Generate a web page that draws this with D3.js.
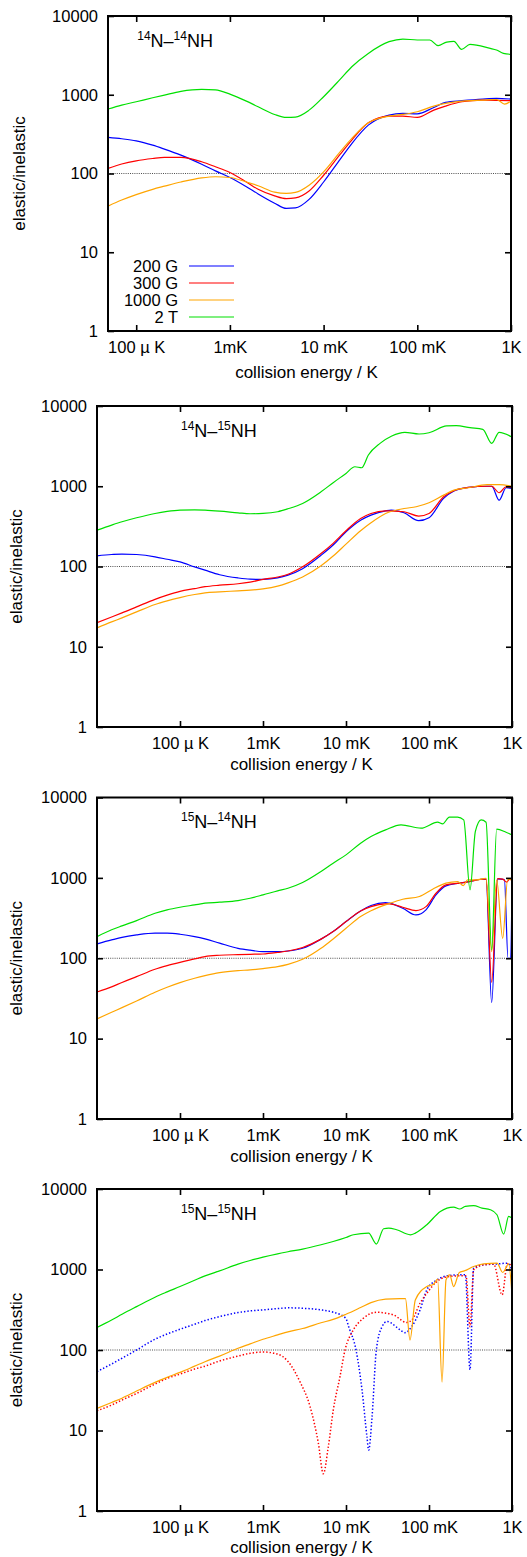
<!DOCTYPE html>
<html>
<head>
<meta charset="utf-8">
<script src="https://cdn.jsdelivr.net/npm/d3@7"></script>
<style>
  body { margin: 0; background: #fff; }
  svg { display: block; }
  text { font-family: "Liberation Sans", Arial, Helvetica, sans-serif; fill: #000; }
</style>
</head>
<body>
<svg></svg>
<script>
// ---------- data: [collision energy / K, elastic/inelastic]

const energyTicks = [1e-4, 1e-3, 1e-2, 1e-1, 1];
const energyTickLabels = ['100 µ K', '1mK', '10 mK', '100 mK', '1K'];
const ratioTicks = [1, 10, 100, 1000, 10000];
const fieldLabels = ['200 G', '300 G', '1000 G', '2 T'];
const panelTitles = [['14', 'N–', '14', 'NH'], ['14', 'N–', '15', 'NH'], ['15', 'N–', '14', 'NH'], ['15', 'N–', '15', 'NH']];

// 14N-14NH
const n14n14_200G = [[5e-5,287],[7e-5,276],[1e-4,260],[1.5e-4,229],[2e-4,204],[3e-4,171],[5e-4,131],[7e-4,108],[1e-3,89],[1.5e-3,68],[2e-3,55],[3e-3,42],[4e-3,36],[5e-3,36.5],[7e-3,47],[1e-2,78],[1.5e-2,151],[2e-2,240],[3e-2,411],[5e-2,552],[7e-2,580],[0.1,573],[0.15,690],[0.2,800],[0.3,840],[0.5,881],[0.7,898],[1,881]];
const n14n14_300G = [[5e-5,116],[7e-5,132],[1e-4,145],[1.5e-4,155],[2e-4,160],[3e-4,160],[5e-4,141],[7e-4,122],[1e-3,103],[1.5e-3,78],[2e-3,63],[3e-3,52],[4e-3,48],[5e-3,49],[7e-3,60],[1e-2,95],[1.5e-2,175],[2e-2,266],[3e-2,440],[5e-2,536],[7e-2,536],[0.1,515],[0.15,638],[0.2,718],[0.3,815],[0.5,855],[0.7,850],[1,840]];
const n14n14_1000G = [[5e-5,38.5],[7e-5,46],[1e-4,54],[1.5e-4,63],[2e-4,69],[3e-4,78],[5e-4,88],[7e-4,91],[1e-3,89],[1.5e-3,78],[2e-3,70],[3e-3,58],[4e-3,56],[5e-3,57.5],[7e-3,71],[1e-2,105],[1.5e-2,188],[2e-2,279],[3e-2,440],[5e-2,536],[7e-2,562],[0.1,608],[0.15,718],[0.2,776],[0.3,830],[0.5,855],[0.7,870],[0.855,760],[1,830]];
const n14n14_2T = [[5e-5,658],[7e-5,739],[1e-4,815],[1.5e-4,916],[2e-4,991],[3e-4,1103],[5e-4,1169],[7e-4,1150],[1e-3,1018],[1.5e-3,830],[2e-3,703],[3e-3,562],[4e-3,515],[5e-3,520],[7e-3,638],[1e-2,944],[1.5e-2,1567],[2e-2,2270],[3e-2,3350],[5e-2,4720],[7e-2,5100],[0.1,4960],[0.136,4960],[0.167,4200],[0.206,4670],[0.246,4760],[0.297,3770],[0.365,4370],[0.6,3880],[0.7,3700],[0.83,3350],[1,3260]];

// 14N-15NH
const n14n15_200G = [[1e-5,136],[1.5e-5,141],[2e-5,143],[3e-5,141],[5e-5,132],[7e-5,123],[1e-4,114],[1.5e-4,99],[2e-4,90],[3e-4,79],[5e-4,72],[7e-4,69.5],[1e-3,69],[1.5e-3,72],[2e-3,78],[3e-3,94],[5e-3,138],[7e-3,185],[1e-2,271],[1.5e-2,378],[2e-2,437],[3e-2,494],[3.5e-2,505],[5e-2,467],[7.5e-2,372],[0.1,405],[0.15,705],[0.2,871],[0.3,967],[0.5,1000],[0.57,1000],[0.7,671],[0.85,958],[1,940]];
const n14n15_300G = [[1e-5,20],[1.5e-5,23.5],[2e-5,26.4],[3e-5,31.4],[5e-5,39],[7e-5,44],[1e-4,49],[1.5e-4,53],[2e-4,56],[3e-4,58.5],[5e-4,61],[7e-4,64],[1e-3,69],[1.5e-3,74],[2e-3,80],[3e-3,99],[5e-3,145],[7e-3,194],[1e-2,279],[1.5e-2,397],[2e-2,458],[3e-2,494],[5e-2,481],[7.5e-2,425],[0.1,458],[0.15,740],[0.2,879],[0.3,967],[0.5,1000],[0.57,1000],[0.7,830],[0.85,986],[1,967]];
const n14n15_1000G = [[1e-5,17.2],[1.5e-5,20.4],[2e-5,22.9],[3e-5,27.2],[5e-5,33.6],[7e-5,37.3],[1e-4,41],[1.5e-4,44.8],[2e-4,47],[3e-4,48.3],[5e-4,49.7],[7e-4,50.7],[1e-3,52.6],[1.5e-3,56.9],[2e-3,62.5],[3e-3,74],[5e-3,102],[7e-3,135],[1e-2,190],[1.5e-2,279],[2e-2,351],[3e-2,458],[5e-2,528],[7e-2,555],[0.1,622],[0.15,776],[0.2,896],[0.3,958],[0.5,1045],[0.7,1050],[1,1000]];
const n14n15_2T = [[1e-5,284],[1.5e-5,328],[2e-5,361],[3e-5,405],[5e-5,458],[7e-5,485],[1e-4,504],[1.5e-4,509],[2e-4,504],[3e-4,490],[5e-4,467],[7e-4,454],[1e-3,458],[1.5e-3,481],[2e-3,524],[3e-3,611],[5e-3,853],[7e-3,1107],[1e-2,1446],[0.0128,1750],[0.01545,1700],[0.0186,2450],[0.0257,3420],[0.0356,4230],[0.0512,4700],[0.0758,4480],[0.1,4640],[0.163,5640],[0.213,5690],[0.312,5370],[0.445,5120],[0.569,3420],[0.7,4700],[1,4100]];

// 15N-14NH
const n15n14_200G = [[1e-5,151],[1.5e-5,169],[2e-5,182],[3e-5,195],[5e-5,205],[7e-5,205],[1e-4,199],[1.5e-4,186],[2e-4,174],[3e-4,154],[5e-4,133],[7e-4,126],[1e-3,121],[1.5e-3,121],[2e-3,123],[3e-3,133],[5e-3,173],[7e-3,215],[1e-2,286],[1.5e-2,388],[2e-2,453],[3e-2,493],[0.0333,484],[0.0482,419],[0.0697,346],[0.092,400],[0.1214,614],[0.16,794],[0.232,859],[0.306,900],[0.424,961],[0.487,965],[0.569,28],[0.671,972],[0.81,950],[0.896,100],[0.964,100],[1,900]];
const n15n14_300G = [[1e-5,38],[1.5e-5,44],[2e-5,50],[3e-5,59],[5e-5,73],[7e-5,81],[1e-4,89],[1.5e-4,98],[2e-4,105],[3e-4,109],[5e-4,111],[7e-4,112],[1e-3,113],[1.5e-3,118],[2e-3,123],[3e-3,136],[5e-3,173],[7e-3,215],[1e-2,286],[1.5e-2,388],[2e-2,439],[3e-2,474],[0.0333,474],[0.0482,431],[0.0697,392],[0.092,439],[0.1214,644],[0.16,818],[0.232,860],[0.306,900],[0.424,961],[0.487,965],[0.569,50],[0.671,980],[0.773,965],[0.863,884],[0.929,960],[1,950]];
const n15n14_1000G = [[1e-5,17.6],[1.5e-5,21.3],[2e-5,24.3],[3e-5,29.4],[5e-5,37.8],[7e-5,43.6],[1e-4,49.8],[1.5e-4,56.4],[2e-4,60.8],[3e-4,66.3],[5e-4,70.2],[7e-4,71.6],[1e-3,74.3],[1.5e-3,78.7],[2e-3,84],[3e-3,97],[5e-3,133],[7e-3,174],[1e-2,236],[1.5e-2,330],[2e-2,390],[0.0333,480],[0.0482,542],[0.0766,586],[0.1107,723],[0.16,859],[0.221,900],[0.259,803],[0.292,944],[0.368,944],[0.487,990],[0.569,121],[0.653,944],[0.773,177],[0.887,961],[1,940]];
const n15n14_2T = [[1e-5,186],[1.5e-5,226],[2e-5,253],[3e-5,294],[5e-5,363],[7e-5,400],[1e-4,431],[1.5e-4,461],[2e-4,484],[3e-4,498],[5e-4,522],[7e-4,558],[1e-3,614],[1.5e-3,689],[2e-3,743],[3e-3,875],[5e-3,1200],[7e-3,1524],[1e-2,1933],[1.5e-2,2700],[2e-2,3270],[3e-2,3960],[0.046,4570],[0.0802,4150],[0.127,4930],[0.146,4700],[0.176,5690],[0.221,5690],[0.262,5270],[0.312,710],[0.362,3780],[0.424,5270],[0.487,4930],[0.569,127],[0.653,4040],[0.847,3700],[1,3430]];

// 15N-15NH
const n15n15_200G = [[1e-5,54],[1.5e-5,67],[2e-5,79],[3e-5,100],[5e-5,136],[7e-5,158],[1e-4,181],[1.5e-4,209],[2e-4,232],[3e-4,260],[5e-4,292],[7e-4,306],[1e-3,315],[1.5e-3,327],[2e-3,334],[3e-3,330],[5e-3,315],[7e-3,295],[8.5e-3,275],[1e-2,245],[0.01076,195],[0.0132,100],[0.0156,31.8],[0.0179,8.3],[0.01875,5.7],[0.0206,14.8],[0.0232,100],[0.0272,195],[0.0312,226],[0.0452,177],[0.0512,164],[0.0618,195],[0.078,315],[0.0942,558],[0.1247,743],[0.165,834],[0.239,859],[0.274,859],[0.312,57],[0.345,1040],[0.455,1143],[0.659,1170],[0.88,1200],[1,990]];
const n15n15_300G = [[1e-5,17.6],[1.5e-5,20.7],[2e-5,23.9],[3e-5,28.9],[5e-5,37.8],[7e-5,44.4],[1e-4,50.2],[1.5e-4,58],[2e-4,63],[3e-4,73],[5e-4,84],[7e-4,91],[1e-3,94.4],[1.5e-3,89],[2e-3,72],[2.8e-3,40],[3.68e-3,20],[4.64e-3,7],[5.33e-3,2.9],[6.12e-3,6.3],[7.03e-3,18],[8.47e-3,47],[9.73e-3,100],[0.01225,177],[0.01618,248],[0.0234,294],[0.0372,273],[0.0538,220],[0.062,235],[0.078,381],[0.0942,507],[0.1247,710],[0.158,803],[0.228,834],[0.279,834],[0.312,195],[0.345,990],[0.455,1143],[0.6,1170],[0.76,484],[0.88,1170],[1,1143]];
const n15n15_1000G = [[1e-5,18.8],[1.5e-5,22.3],[2e-5,25.2],[3e-5,30.9],[5e-5,39.6],[7e-5,45.7],[1e-4,52.7],[1.5e-4,63],[2e-4,71.6],[3e-4,84],[5e-4,105],[7e-4,119],[1e-3,136],[1.5e-3,154],[2e-3,168],[3e-3,185],[5e-3,218],[7e-3,240],[1e-2,278],[1.5e-2,337],[2e-2,388],[3e-2,428],[0.0448,435],[0.052,435],[0.059,133],[0.0684,419],[0.0942,614],[0.1138,656],[0.127,758],[0.1436,40],[0.1603,743],[0.1774,859],[0.198,614],[0.232,918],[0.267,961],[0.345,1090],[0.455,1175],[0.659,1200],[0.773,918],[0.912,1175],[1,484]];
const n15n15_2T = [[1e-5,191],[1.5e-5,236],[2e-5,278],[3e-5,346],[5e-5,453],[7e-5,527],[1e-4,614],[1.5e-4,736],[2e-4,834],[3e-4,961],[5e-4,1164],[7e-4,1294],[1e-3,1426],[1.5e-3,1567],[2e-3,1660],[3e-3,1791],[5e-3,2030],[7e-3,2230],[1e-2,2500],[0.0123,2700],[0.01875,2830],[0.0232,2070],[0.0284,3210],[0.0327,3270],[0.0407,3120],[0.0596,2700],[0.0684,2830],[0.0942,3600],[0.137,5270],[0.198,5970],[0.234,5640],[0.274,6080],[0.345,6200],[0.435,5800],[0.548,5530],[0.659,4790],[0.794,2750],[0.912,4570],[1,4350]];

// ---------- setup
const width = 527;
const height = 1557;
const colors = ['#0000ff', '#ff0000', '#ffa500', '#00e000'];

const svg = d3.select('svg')
  .attr('width', width)
  .attr('height', height);

const panels = [
  { left: 108, right: 511, top: 16, bottom: 331, xMin: 5e-5, xlabelDy: 46.5, ylabelX: 25,
    series: [n14n14_200G, n14n14_300G, n14n14_1000G, n14n14_2T], dotted: [false, false, false, false], legend: true, refColor: '#222' },
  { left: 97, right: 512, top: 406, bottom: 727, xMin: 1e-5, xlabelDy: 42.5, ylabelX: 22,
    series: [n14n15_200G, n14n15_300G, n14n15_1000G, n14n15_2T], dotted: [false, false, false, false], refColor: '#222' },
  { left: 97, right: 512, top: 797.5, bottom: 1119, xMin: 1e-5, xlabelDy: 42.5, ylabelX: 22,
    series: [n15n14_200G, n15n14_300G, n15n14_1000G, n15n14_2T], dotted: [false, false, false, false], refColor: '#222' },
  { left: 97, right: 512, top: 1189, bottom: 1511, xMin: 1e-5, xlabelDy: 42, ylabelX: 22,
    series: [n15n15_200G, n15n15_300G, n15n15_1000G, n15n15_2T], dotted: [true, true, false, false], refColor: '#888' }
];

panels.forEach(function (p, i) {
  const g = svg.append('g');

  const xScale = d3.scaleLog().domain([p.xMin, 1]).range([p.left, p.right]);
  const yScale = d3.scaleLog().domain([1, 10000]).range([p.bottom, p.top]);

  const clipId = 'clip' + i;
  g.append('clipPath').attr('id', clipId)
    .append('rect')
    .attr('x', p.left).attr('y', p.top)
    .attr('width', p.right - p.left).attr('height', p.bottom - p.top);

  // reference line at 100
  g.append('line')
    .attr('x1', p.left).attr('x2', p.right)
    .attr('y1', yScale(100)).attr('y2', yScale(100))
    .attr('stroke', p.refColor)
    .attr('stroke-width', i === 3 ? 1.3 : 0.8)
    .attr('stroke-dasharray', '1,1.2');

  // curves
  const line = d3.line()
    .curve(d3.curveMonotoneX)
    .x(function (d) { return xScale(d[0]); })
    .y(function (d) { return yScale(d[1]); });

  const plot = g.append('g').attr('clip-path', 'url(#' + clipId + ')');
  p.series.forEach(function (s, k) {
    plot.append('path')
      .datum(s)
      .attr('d', line)
      .attr('fill', 'none')
      .attr('stroke', colors[k])
      .attr('stroke-width', p.dotted[k] ? 1.5 : 1.2)
      .attr('stroke-dasharray', p.dotted[k] ? '1.4,2' : null)
      .attr('stroke-linejoin', 'miter');
  });

  // axes (ticks inward on all sides)
  const tickLen = 6;
  const bottomAxis = d3.axisBottom(xScale)
    .tickValues(energyTicks)
    .tickFormat(function (d, j) { return energyTickLabels[j]; })
    .tickSizeInner(-tickLen).tickSizeOuter(0).tickPadding(10);
  const topAxis = d3.axisTop(xScale)
    .tickValues(energyTicks).tickFormat('')
    .tickSizeInner(-tickLen).tickSizeOuter(0);
  const leftAxis = d3.axisLeft(yScale)
    .tickValues(ratioTicks).tickFormat(d3.format('d'))
    .tickSizeInner(-tickLen).tickSizeOuter(0).tickPadding(10);
  const rightAxis = d3.axisRight(yScale)
    .tickValues(ratioTicks).tickFormat('')
    .tickSizeInner(-tickLen).tickSizeOuter(0);

  const axes = [
    g.append('g').attr('transform', 'translate(0,' + p.bottom + ')').call(bottomAxis),
    g.append('g').attr('transform', 'translate(0,' + p.top + ')').call(topAxis),
    g.append('g').attr('transform', 'translate(' + p.left + ',0)').call(leftAxis),
    g.append('g').attr('transform', 'translate(' + p.right + ',0)').call(rightAxis)
  ];
  axes.forEach(function (a) {
    a.select('.domain').remove();
    a.selectAll('line').attr('stroke', '#000').attr('stroke-width', 1.6);
    a.selectAll('text')
      .style('font-family', '"Liberation Sans", Arial, sans-serif')
      .style('font-size', '16.5px')
      .attr('fill', '#000');
  });

  // frame
  g.append('rect')
    .attr('x', p.left).attr('y', p.top)
    .attr('width', p.right - p.left).attr('height', p.bottom - p.top)
    .attr('fill', 'none').attr('stroke', '#000').attr('stroke-width', 2);

  // axis titles
  g.append('text')
    .attr('x', (p.left + p.right) / 2 - 3)
    .attr('y', p.bottom + p.xlabelDy)
    .attr('text-anchor', 'middle')
    .style('font-size', '17px')
    .text('collision energy / K');

  g.append('text')
    .attr('transform', 'translate(' + p.ylabelX + ',' + ((p.top + p.bottom) / 2) + ') rotate(-90)')
    .attr('text-anchor', 'middle')
    .style('font-size', '17px')
    .text('elastic/inelastic');

  // panel title with superscript mass numbers
  const t = panelTitles[i];
  const title = g.append('text')
    .attr('x', xScale(1e-4) + 1)
    .attr('y', p.top + 30.5)
    .style('font-size', '18px');
  title.append('tspan').attr('dy', -7).style('font-size', '12px').text(t[0]);
  title.append('tspan').attr('dy', 7).text(t[1]);
  title.append('tspan').attr('dy', -7).style('font-size', '12px').text(t[2]);
  title.append('tspan').attr('dy', 7).text(t[3]);

  // legend
  if (p.legend) {
    const lg = g.append('g');
    fieldLabels.forEach(function (lab, k) {
      const yy = p.top + 250 + k * 17;
      lg.append('text')
        .attr('x', p.left + 70).attr('y', yy + 6)
        .attr('text-anchor', 'end')
        .style('font-size', '16.5px')
        .text(lab);
      lg.append('line')
        .attr('x1', p.left + 81).attr('x2', p.left + 126)
        .attr('y1', yy).attr('y2', yy)
        .attr('stroke', colors[k]).attr('stroke-width', 1.2);
    });
  }
});
</script>
</body>
</html>
